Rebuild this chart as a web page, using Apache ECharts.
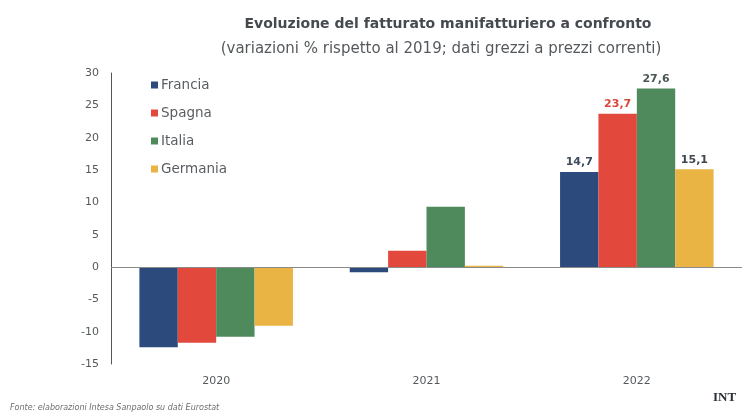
<!DOCTYPE html>
<html><head><meta charset="utf-8">
<script src="https://cdn.jsdelivr.net/npm/echarts@6/dist/echarts.min.js"></script>
<style>html,body{margin:0;padding:0;background:#fff}#c{width:742px;height:415px}</style>
</head><body><div id="c"></div>
<script>
var categories = ['2020', '2021', '2022'];
var francia = [-12.4, -0.8, 14.7];
var spagna = [-11.7, 2.5, 23.7];
var italia = [-10.8, 9.3, 27.6];
var germania = [-9.1, 0.2, 15.1];
var seriesNames = ['Francia', 'Spagna', 'Italia', 'Germania'];
var colors = ['#2c4a7c', '#e2483c', '#4f8a5d', '#e9b443'];
var labelColors = ['#3f4c5e', '#d9473b', '#4a5753', '#3f4650'];
var labeledIndex = 2;

var chart = echarts.init(document.getElementById('c'));
var font = 'DejaVu Sans';
var allData = [francia, spagna, italia, germania];
var series = allData.map(function (d, i) {
  var s = {
    name: seriesNames[i], type: 'bar', data: d,
    barGap: '0%', barCategoryGap: '27%',
    itemStyle: { color: colors[i] },
    label: {
      show: true, position: 'top', distance: 4,
      fontFamily: font, fontWeight: 'bold', fontSize: 11, color: labelColors[i],
      formatter: function (p) { return p.dataIndex === labeledIndex ? String(p.value).replace('.', ',') : ''; }
    }
  };
  if (i === 0) {
    s.markLine = { silent: true, symbol: 'none', label: { show: false },
      lineStyle: { color: '#8a8a8a', width: 1, type: 'solid' }, data: [{ yAxis: 0 }] };
  }
  return s;
});
chart.setOption({
  animation: false,
  textStyle: { fontFamily: font },
  title: [{
    text: 'Evoluzione del fatturato manifatturiero a confronto',
    left: 443, top: 12, textAlign: 'center',
    textStyle: { fontFamily: font, fontSize: 14, fontWeight: 'bold', color: '#454a4f' }
  }, {
    text: '(variazioni % rispetto al 2019; dati grezzi a prezzi correnti)',
    left: 436, top: 37, textAlign: 'center',
    textStyle: { fontFamily: font, fontSize: 15, fontWeight: 'normal', color: '#55595d' }
  }],
  legend: {
    orient: 'vertical', left: 151, top: 78, padding: 0, itemWidth: 7, itemHeight: 7, itemGap: 14,
    icon: 'rect', data: seriesNames,
    textStyle: { fontFamily: font, fontSize: 13.5, color: '#5a5e62', padding: [0, 0, 0, -2], lineHeight: 14 }
  },
  grid: { left: 111, right: 0, top: 73, bottom: 51 },
  xAxis: {
    type: 'category', data: categories,
    axisLine: { show: false, onZero: false }, axisTick: { show: false },
    axisLabel: { margin: 12, fontFamily: font, fontSize: 11, color: '#55595d' }
  },
  yAxis: {
    type: 'value', min: -15, max: 30, interval: 5,
    axisLine: { show: true, lineStyle: { color: '#555', width: 1 } },
    axisTick: { show: false }, splitLine: { show: false },
    axisLabel: { margin: 12, fontFamily: font, fontSize: 11, color: '#55595d' }
  },
  graphic: [{
    type: 'text', left: 10, top: 404,
    style: { text: 'Fonte: elaborazioni Intesa Sanpaolo su dati Eurostat', fontFamily: font, fontSize: 8, fontStyle: 'italic', fill: '#6a6e72' }
  }, {
    type: 'text', left: 713, top: 391,
    style: { text: 'INT', fontFamily: 'Liberation Serif', fontSize: 13, fontWeight: 'bold', fill: '#2a2f36' }
  }],
  series: series
});
</script></body></html>
